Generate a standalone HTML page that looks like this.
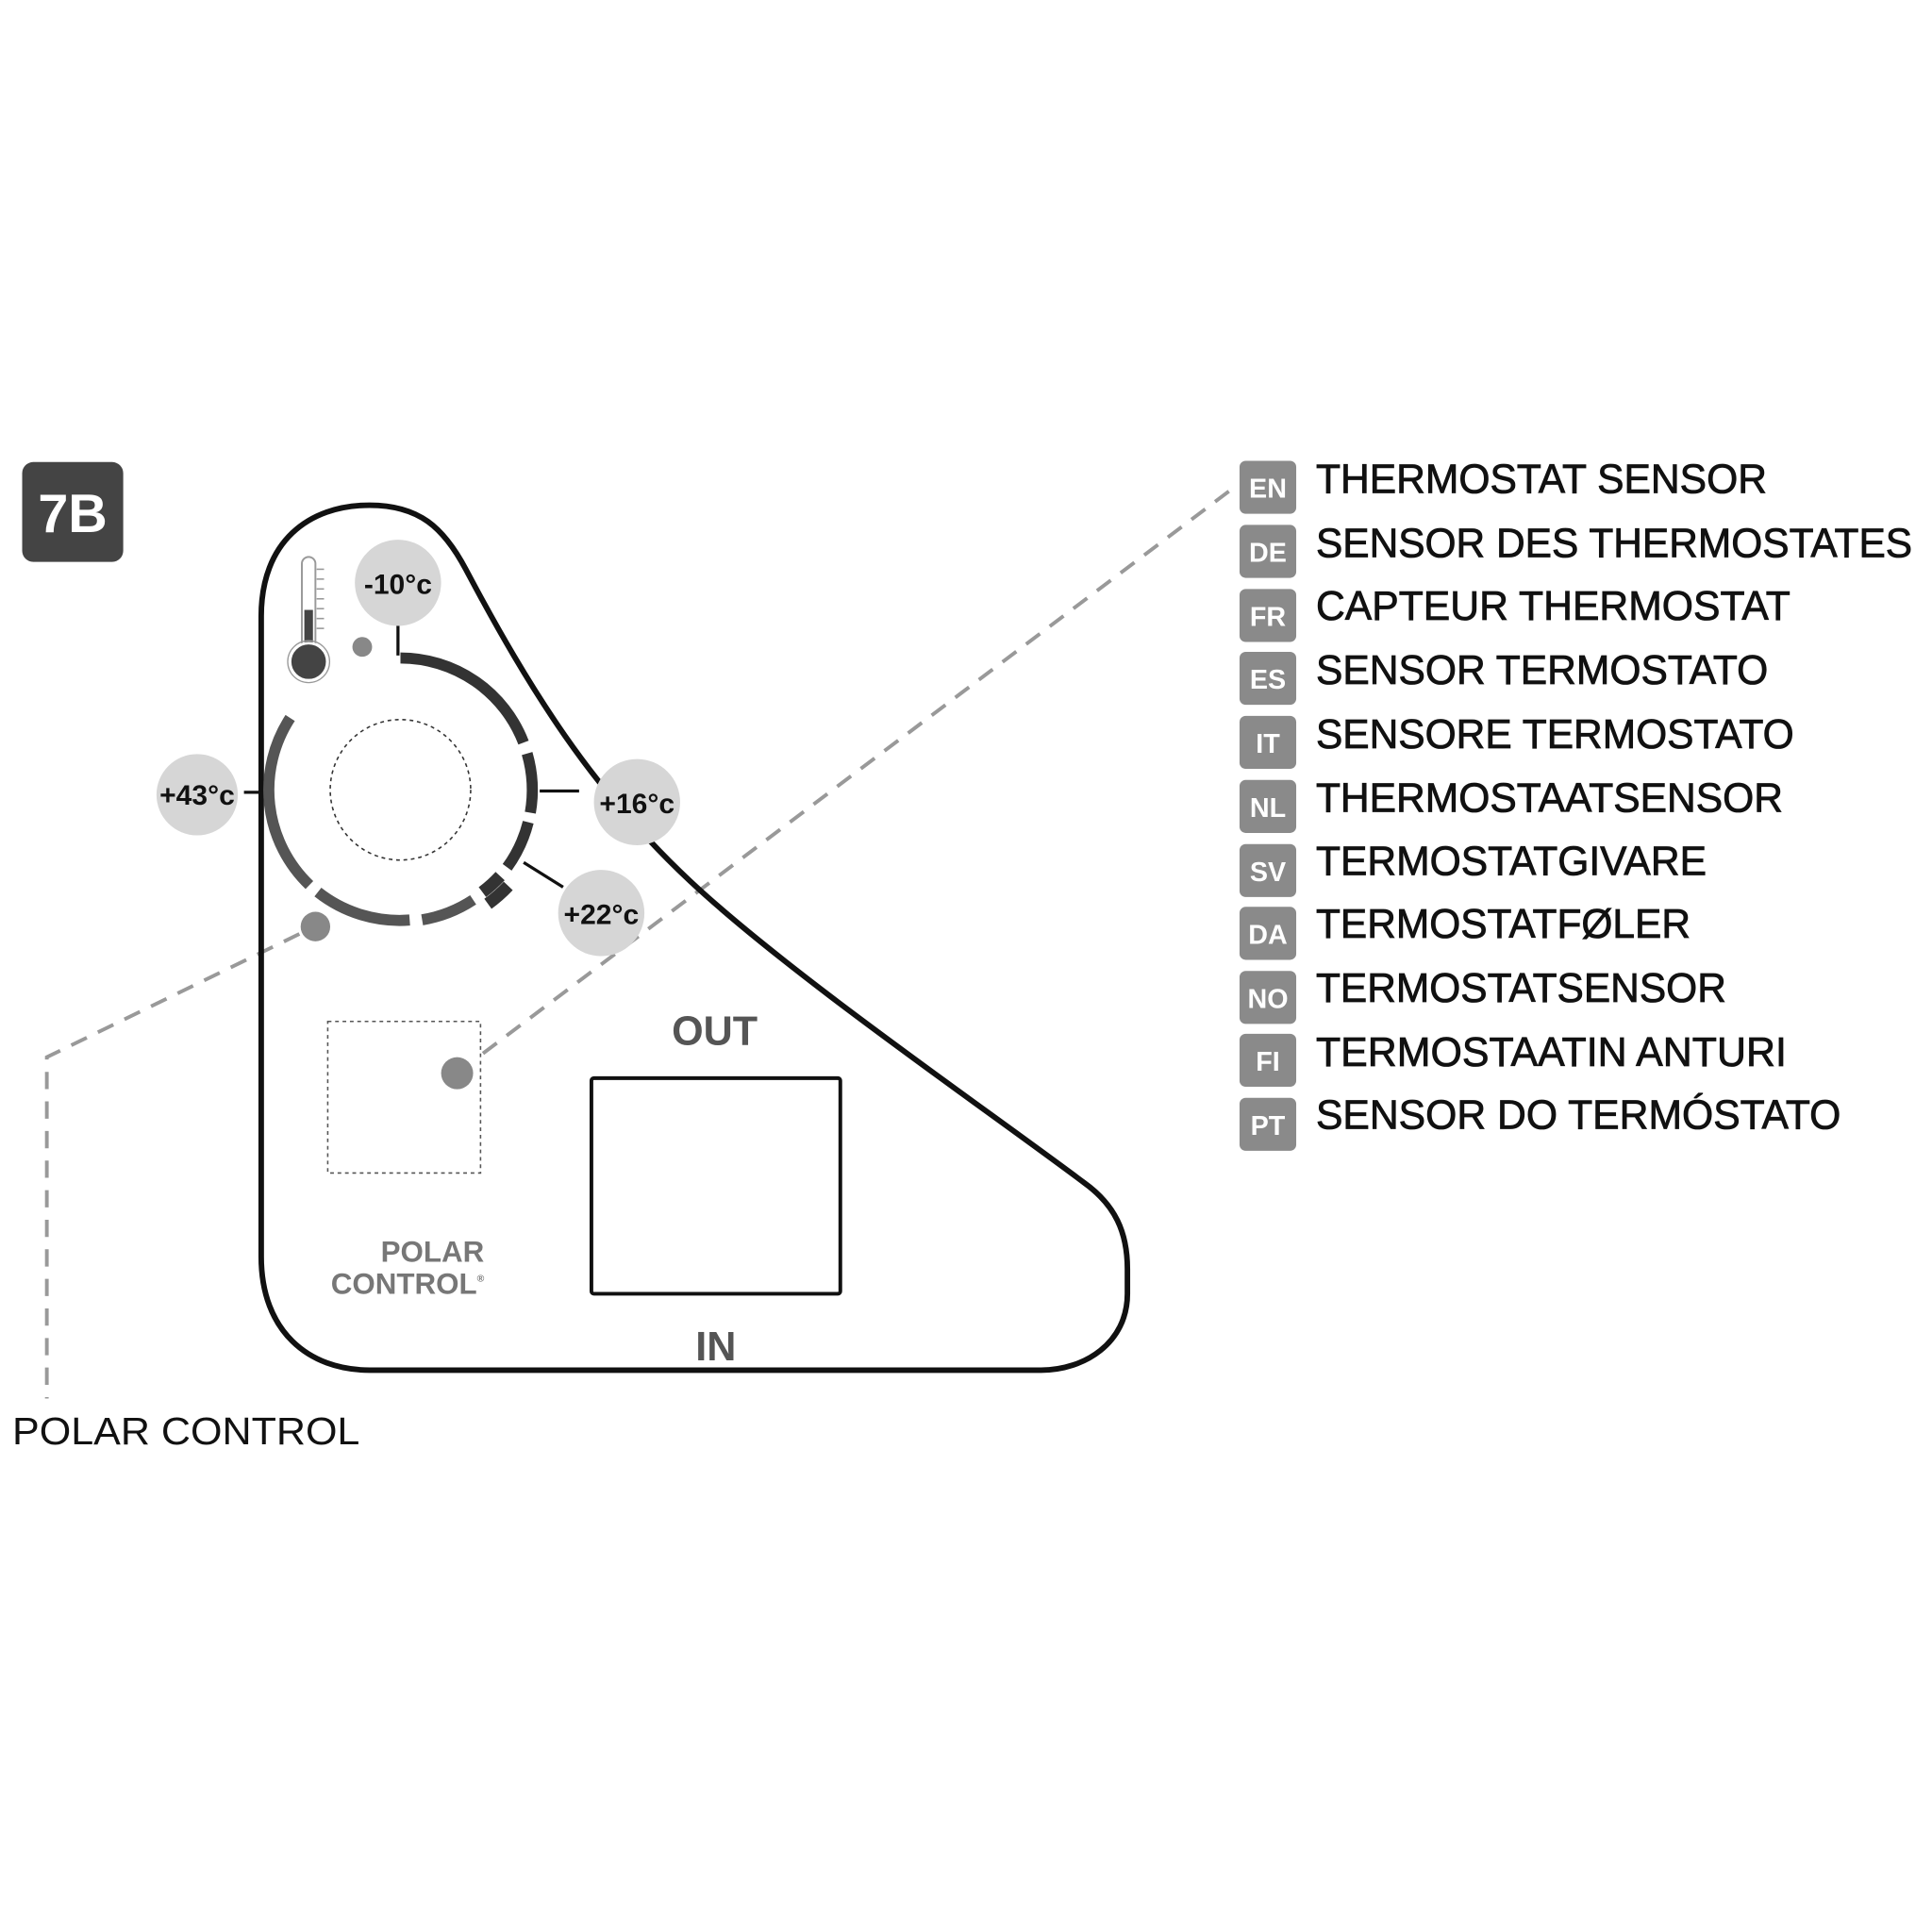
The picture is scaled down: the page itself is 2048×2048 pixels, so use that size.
<!DOCTYPE html>
<html><head><meta charset="utf-8"><style>html,body{margin:0;padding:0;background:#fff}svg{display:block}</style></head>
<body>
<svg width="2048" height="2048" viewBox="0 0 1568 1568" xmlns="http://www.w3.org/2000/svg" font-family="'Liberation Sans', Arial, sans-serif">
<rect width="1568" height="1568" fill="#fff"/>
<rect x="18" y="375" width="82" height="81" rx="9" fill="#444"/>
<text x="59" y="432" text-anchor="middle" font-size="44" font-weight="bold" fill="#fff">7B</text>
<g stroke="#999" stroke-width="3" fill="none" stroke-dasharray="14 10">
<path d="M243,758 L38,858 L38,1135"/>
<path d="M392,855 L1005,393"/>
</g>
<path d="M212,500 C212,440 250,410 300,410 C340,410 360,428 378,462 C430,560 480,640 560,715 C640,790 800,900 880,960 C905,978 915,1000 915,1030 L915,1050 C915,1090 880,1112 845,1112 L300,1112 C250,1112 212,1080 212,1020 Z" fill="none" stroke="#111" stroke-width="4.5" stroke-linejoin="round"/>
<rect x="245" y="452" width="11" height="85" rx="5.5" fill="#fff" stroke="#999" stroke-width="1.5"/>
<rect x="247" y="495" width="7" height="40" fill="#444"/>
<circle cx="250.5" cy="537" r="15" fill="#444" stroke="#fff" stroke-width="2"/>
<circle cx="250.5" cy="537" r="17" fill="none" stroke="#999" stroke-width="1"/>
<g stroke="#999" stroke-width="1.2">
<line x1="257" y1="462" x2="263" y2="462"/><line x1="257" y1="470" x2="263" y2="470"/><line x1="257" y1="478" x2="263" y2="478"/><line x1="257" y1="486" x2="263" y2="486"/><line x1="257" y1="494" x2="263" y2="494"/><line x1="257" y1="502" x2="263" y2="502"/><line x1="257" y1="510" x2="263" y2="510"/>
</g>
<circle cx="294" cy="525" r="8" fill="#888"/>
<circle cx="325" cy="641" r="57" fill="none" stroke="#333" stroke-width="1.2" stroke-dasharray="3 3"/>
<g stroke="#111" stroke-width="2.5">
<line x1="323" y1="495" x2="323" y2="532"/>
<line x1="198" y1="643" x2="221" y2="643"/>
<line x1="438" y1="642" x2="470" y2="642"/>
<line x1="425" y1="700" x2="457" y2="720"/>
</g>
<g fill="#d6d6d6">
<circle cx="323" cy="473" r="35"/>
<circle cx="160" cy="645" r="33"/>
<circle cx="517" cy="651" r="35"/>
<circle cx="488" cy="741" r="35"/>
</g>
<g font-size="23" font-weight="bold" fill="#111" text-anchor="middle">
<text x="323" y="482">-10°c</text>
<text x="160" y="653">+43°c</text>
<text x="517" y="660">+16°c</text>
<text x="488" y="750">+22°c</text>
</g>
<circle cx="256" cy="752" r="12" fill="#888"/>
<rect x="266" y="829" width="124" height="123" fill="none" stroke="#555" stroke-width="1.2" stroke-dasharray="3 3"/>
<circle cx="371" cy="871" r="13" fill="#888"/>
<text x="580" y="848" text-anchor="middle" font-size="33" font-weight="bold" fill="#555">OUT</text>
<rect x="480" y="875" width="202" height="175" rx="2" fill="none" stroke="#111" stroke-width="3"/>
<text x="581" y="1104" text-anchor="middle" font-size="33" font-weight="bold" fill="#555">IN</text>
<text x="393" y="1024" text-anchor="end" font-size="24" font-weight="bold" fill="#777">POLAR</text>
<text x="393" y="1050" text-anchor="end" font-size="24" font-weight="bold" fill="#777">CONTROL<tspan font-size="8" dy="-10">®</tspan></text>
<text x="10" y="1172" font-size="31" fill="#111" textLength="282" lengthAdjust="spacingAndGlyphs">POLAR CONTROL</text>
<g font-size="22" font-weight="bold" fill="#fff" text-anchor="middle">
<rect x="1006" y="374" width="46" height="43" rx="5" fill="#8a8a8a"/><text x="1029" y="404">EN</text>
<rect x="1006" y="426" width="46" height="43" rx="5" fill="#8a8a8a"/><text x="1029" y="456">DE</text>
<rect x="1006" y="478" width="46" height="43" rx="5" fill="#8a8a8a"/><text x="1029" y="508">FR</text>
<rect x="1006" y="529" width="46" height="43" rx="5" fill="#8a8a8a"/><text x="1029" y="559">ES</text>
<rect x="1006" y="581" width="46" height="43" rx="5" fill="#8a8a8a"/><text x="1029" y="611">IT</text>
<rect x="1006" y="633" width="46" height="43" rx="5" fill="#8a8a8a"/><text x="1029" y="663">NL</text>
<rect x="1006" y="685" width="46" height="43" rx="5" fill="#8a8a8a"/><text x="1029" y="715">SV</text>
<rect x="1006" y="736" width="46" height="43" rx="5" fill="#8a8a8a"/><text x="1029" y="766">DA</text>
<rect x="1006" y="788" width="46" height="43" rx="5" fill="#8a8a8a"/><text x="1029" y="818">NO</text>
<rect x="1006" y="839" width="46" height="43" rx="5" fill="#8a8a8a"/><text x="1029" y="869">FI</text>
<rect x="1006" y="891" width="46" height="43" rx="5" fill="#8a8a8a"/><text x="1029" y="921">PT</text>
</g>
<g font-size="33" fill="#111" stroke="#111" stroke-width="0.6">
<text x="1068" y="400" textLength="366" lengthAdjust="spacingAndGlyphs">THERMOSTAT SENSOR</text>
<text x="1068" y="452" textLength="484" lengthAdjust="spacingAndGlyphs">SENSOR DES THERMOSTATES</text>
<text x="1068" y="503" textLength="385" lengthAdjust="spacingAndGlyphs">CAPTEUR THERMOSTAT</text>
<text x="1068" y="555" textLength="367" lengthAdjust="spacingAndGlyphs">SENSOR TERMOSTATO</text>
<text x="1068" y="607" textLength="388" lengthAdjust="spacingAndGlyphs">SENSORE TERMOSTATO</text>
<text x="1068" y="659" textLength="379" lengthAdjust="spacingAndGlyphs">THERMOSTAATSENSOR</text>
<text x="1068" y="710" textLength="317" lengthAdjust="spacingAndGlyphs">TERMOSTATGIVARE</text>
<text x="1068" y="761" textLength="304" lengthAdjust="spacingAndGlyphs">TERMOSTATFØLER</text>
<text x="1068" y="813" textLength="333" lengthAdjust="spacingAndGlyphs">TERMOSTATSENSOR</text>
<text x="1068" y="865" textLength="382" lengthAdjust="spacingAndGlyphs">TERMOSTAATIN ANTURI</text>
<text x="1068" y="916" textLength="426" lengthAdjust="spacingAndGlyphs">SENSOR DO TERMÓSTATO</text>
</g>
<g fill="none" stroke-width="9">
<path stroke="#333" d="M325.0,534.0 A107,107 0 0 1 424.9,602.7"/>
<path stroke="#333" d="M427.8,611.5 A107,107 0 0 1 430.4,659.6"/>
<path stroke="#333" d="M428.7,667.3 A107,107 0 0 1 411.6,703.9"/>
<path stroke="#333" stroke-width="10" d="M405.9,711.0 A107,107 0 0 1 391.5,724.0"/>
<path stroke="#333" stroke-width="10" d="M412.5,719.0 A118,118 0 0 1 396.0,733.5"/>
<path stroke="#555" d="M384.0,730.3 A107,107 0 0 1 342.6,746.5"/>
<path stroke="#555" d="M332.5,746.7 A107,107 0 0 1 258.0,724.0"/>
<path stroke="#555" d="M251.1,718.3 A107,107 0 0 1 235.5,582.7"/>
</g>
</svg>
</body></html>
